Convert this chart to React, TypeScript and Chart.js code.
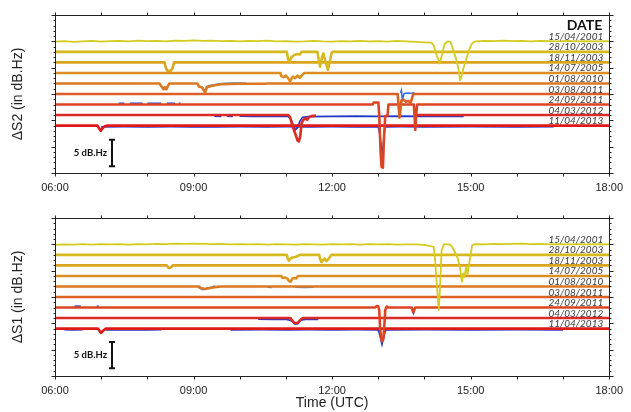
import { useEffect, useRef } from "react";
import { Chart, registerables } from "chart.js";

Chart.register(...registerables);

type Pt = [number, number | null];

// Event dates, one trace per date, stacked 2 dB.Hz apart
const DATES = [
  "15/04/2001",
  "28/10/2003",
  "18/11/2003",
  "14/07/2005",
  "01/08/2010",
  "03/08/2011",
  "24/09/2011",
  "04/03/2012",
  "11/04/2013",
];
const BASELINES = [25, 23, 21, 19, 17, 15, 13, 11, 9];
const COLORS = [
  "#d3cc1e",
  "#d8b81f",
  "#daa41e",
  "#dc8e22",
  "#dc7822",
  "#dc6026",
  "#dc4424",
  "#dc2a26",
  "#e01818",
];
const TIME_TICKS = [6, 9, 12, 15, 18];

// ---------- ΔS2 ----------
const S2_150401: Pt[] = [
  [6.0, 24.95], [6.2, 25.05], [6.4, 24.9], [6.6, 25.0], [6.8, 25.1], [7.0, 24.95], [7.2, 25.05],
  [7.4, 25.1], [7.6, 25.0], [7.8, 25.15], [8.0, 25.05], [8.2, 25.1], [8.4, 25.0], [8.6, 25.15],
  [8.8, 25.1], [9.0, 25.2], [9.2, 25.1], [9.4, 25.15], [9.6, 25.05], [9.8, 25.1], [10.0, 25.0],
  [10.2, 25.1], [10.4, 25.05], [10.6, 25.15], [10.8, 25.0], [11.0, 25.05], [11.2, 24.95], [11.4, 25.0],
  [11.6, 25.1], [11.8, 25.0], [12.0, 24.95], [12.2, 25.05], [12.4, 25.0], [12.6, 25.1], [12.8, 25.0],
  [13.0, 25.05], [13.2, 24.95], [13.4, 25.1], [13.6, 25.0], [13.8, 24.9], [14.0, 24.8], [14.15, 24.75],
  [14.2, 24.2], [14.27, 22.2], [14.33, 20.8], [14.38, 22.5], [14.43, 24.4], [14.5, 25.0], [14.56, 24.9],
  [14.6, 24.0], [14.66, 22.3], [14.7, 21.2], [14.74, 19.5], [14.77, 17.6], [14.8, 18.3], [14.84, 19.8],
  [14.9, 21.5], [14.96, 23.3], [15.03, 24.6], [15.1, 25.0], [15.3, 25.1], [15.5, 25.05], [15.7, 25.15],
  [15.9, 25.05], [16.1, 25.1], [16.3, 25.0], [16.5, 25.1], [16.7, 25.05], [16.9, 25.0], [17.1, 25.1],
  [17.3, 25.0], [17.5, 25.05], [17.7, 25.0], [18.0, 25.05],
];
const S2_281003: Pt[] = [
  [6, 23], [11.02, 23], [11.05, 21.5], [11.08, 21.2], [11.12, 22.0], [11.18, 22.4], [11.24, 22.6],
  [11.3, 22.5], [11.34, 23], [11.68, 23], [11.71, 21.5], [11.74, 20.2], [11.78, 22.0], [11.81, 22.7],
  [11.86, 21.0], [11.91, 19.6], [11.95, 21.2], [11.99, 22.8], [12.01, 23], [18, 23],
];
const S2_181103: Pt[] = [
  [6, 21], [8.37, 21], [8.4, 20.0], [8.43, 19.4], [8.5, 19.4], [8.54, 19.8], [8.58, 21], [18, 21],
];
const S2_140705: Pt[] = [
  [6, 19], [10.88, 19], [10.9, 18.4], [10.95, 18.2], [11.0, 18.5], [11.04, 18.1], [11.09, 17.4],
  [11.12, 17.9], [11.15, 18.3], [11.2, 18.0], [11.25, 18.5], [11.3, 18.1], [11.35, 18.6], [11.4, 19], [18, 19],
];
const S2_010810: Pt[] = [
  [6, 17], [8.26, 17], [8.3, 16.5], [8.35, 15.9], [8.38, 16.3], [8.41, 15.9], [8.45, 16.6], [8.48, 17],
  [9.08, 17], [9.12, 16.4], [9.18, 16.3], [9.22, 15.7], [9.25, 15.3], [9.29, 16.3], [9.4, 16.55],
  [9.5, 16.7], [9.6, 16.85], [9.8, 16.9], [10.0, 16.95], [10.5, 16.95], [10.6, 17], [18, 17],
];
const S2_030811: Pt[] = [
  [6, 15], [13.42, 15], [13.44, 12.5], [13.46, 10.5], [13.48, 12.0], [13.5, 13.8], [13.55, 13.9],
  [13.6, 13.5], [13.65, 13.7], [13.7, 13.3], [13.74, 14.5], [13.76, 15], [18, 15],
];
const S2_240911: Pt[] = [
  [6, 13], [12.88, 13], [12.9, 13.4], [13.0, 13.4], [13.02, 11.0], [13.05, 4.0], [13.07, 1.2],
  [13.1, 1.0], [13.12, 6.0], [13.15, 10.8], [13.2, 10.9], [13.22, 13.0], [13.77, 13.0], [13.79, 10.0],
  [13.8, 8.2], [13.82, 11.0], [13.84, 13], [18, 13],
];
const S2_040312: Pt[] = [
  [6, 11], [11.05, 11], [11.09, 10.6], [11.14, 9.0], [11.2, 7.5], [11.25, 6.2], [11.28, 6.0],
  [11.31, 7.0], [11.34, 9.5], [11.37, 10.0], [11.42, 10.4], [11.46, 10.1], [11.5, 10.6], [11.55, 10.8],
  [11.65, 10.9], [11.7, null], [13.82, 11], [18, 11],
];
const S2_110413: Pt[] = [
  [6, 9], [6.92, 9], [6.96, 8.4], [6.99, 8.0], [7.03, 8.5], [7.08, 8.9], [7.15, 9], [18, 9],
];
const S2_MAIN = [S2_150401, S2_281003, S2_181103, S2_140705, S2_010810, S2_030811, S2_240911, S2_040312, S2_110413];

// second receiver (blue), drawn under the main traces
const S2_BLUE_010810: Pt[] = [
  [9.2, 16.2], [9.25, 15.5], [9.28, 16.4], [9.35, 16.6], [9.45, 16.75], [9.55, 16.95], [9.7, 17.05],
  [9.85, 17.1], [10.0, 17.1], [10.15, 17.05],
];
const S2_BLUE_030811: Pt[] = [
  [13.48, 15.2], [13.5, 15.7], [13.52, 14.0], [13.56, 15.1], [13.65, 15.2], [13.72, 15.1], [13.78, 15.3],
];
const S2_BLUE_240911: Pt[] = [
  [7.38, 13.22], [7.5, 13.25], [7.55, null], [7.62, 13.22], [7.9, 13.25], [7.95, null], [8.0, 13.25],
  [8.3, 13.22], [8.35, null], [8.42, 13.22], [8.6, 13.25], [8.65, null], [8.68, 13.22], [8.72, 13.22],
];
const S2_BLUE_040312: Pt[] = [
  [9.45, 10.78], [9.6, 10.75], [9.65, null], [9.72, 10.78], [9.85, 10.75], [9.9, null], [10.0, 10.8],
  [10.3, 10.75], [10.65, 10.8], [11.05, 10.75], [11.12, 10.0], [11.2, 8.2], [11.25, 8.6], [11.3, 9.8],
  [11.36, 10.6], [11.5, 10.7], [12.0, 10.75], [12.5, 10.8], [13.0, 10.75], [13.5, 10.8], [14.0, 10.75],
  [14.5, 10.8], [14.85, 10.75],
];
const S2_BLUE_110413: Pt[] = [
  [7.0, 8.75], [7.5, 8.78], [8.0, 8.75], [8.5, 8.78], [9.0, 8.76], [9.5, 8.75], [10.0, 8.78],
  [10.6, 8.75], [11.0, 8.78], [11.5, 8.75], [12.0, 8.78], [12.5, 8.75], [13.0, 8.78], [13.04, 7.0],
  [13.07, 4.5], [13.09, 3.9], [13.11, 5.5], [13.14, 8.75], [13.5, 8.78], [14.0, 8.75], [15.0, 8.78],
  [16.0, 8.75], [16.8, 8.78],
];
const S2_BLUE = [
  { pts: S2_BLUE_010810, color: "#3a86e2" },
  { pts: S2_BLUE_030811, color: "#2f6fe0" },
  { pts: S2_BLUE_240911, color: "#2a46d0" },
  { pts: S2_BLUE_040312, color: "#2236c8" },
  { pts: S2_BLUE_110413, color: "#2236c8" },
];

// ---------- ΔS1 ----------
const S1_150401: Pt[] = [
  [6.0, 24.9], [6.2, 25.0], [6.4, 24.95], [6.6, 25.05], [6.8, 24.95], [7.0, 25.05], [7.2, 25.0],
  [7.4, 25.05], [7.6, 24.95], [7.8, 25.05], [8.0, 25.0], [8.2, 25.1], [8.4, 25.05], [8.6, 25.15],
  [8.8, 25.1], [9.0, 25.15], [9.2, 25.1], [9.4, 25.05], [9.6, 25.1], [9.8, 25.0], [10.0, 25.05],
  [10.2, 25.0], [10.4, 25.05], [10.6, 24.95], [10.8, 25.05], [11.0, 25.0], [11.2, 24.95], [11.4, 25.05],
  [11.6, 25.0], [11.8, 24.95], [12.0, 25.05], [12.2, 25.0], [12.4, 25.05], [12.6, 24.95], [12.8, 25.05],
  [13.0, 25.0], [13.2, 25.05], [13.4, 24.95], [13.6, 25.0], [13.8, 25.0], [14.0, 24.9], [14.1, 24.7],
  [14.2, 24.5], [14.23, 22.0], [14.27, 17.0], [14.31, 12.5], [14.34, 17.5], [14.37, 23.8], [14.42, 25.0],
  [14.55, 25.0], [14.6, 24.5], [14.66, 23.5], [14.72, 22.3], [14.77, 20.5], [14.81, 17.9], [14.84, 19.5],
  [14.87, 18.8], [14.9, 20.8], [14.93, 19.3], [14.97, 21.5], [15.0, 23.0], [15.03, 24.8], [15.1, 25.05],
  [15.3, 25.0], [15.5, 25.1], [15.7, 25.05], [15.9, 25.1], [16.1, 25.15], [16.3, 25.05], [16.5, 25.1],
  [16.7, 25.0], [16.9, 25.05], [17.1, 25.0], [17.3, 25.05], [17.5, 25.0], [17.7, 25.05], [18.0, 25.0],
];
const S1_281003: Pt[] = [
  [6, 23], [11.02, 23], [11.04, 22.2], [11.07, 21.9], [11.1, 22.3], [11.14, 22.5], [11.2, 22.6],
  [11.26, 22.8], [11.3, 23], [11.72, 23], [11.74, 22.2], [11.77, 21.6], [11.8, 22.0], [11.84, 22.3],
  [11.87, 21.8], [11.9, 22.0], [11.96, 22.7], [11.98, 23], [18, 23],
];
const S1_181103: Pt[] = [
  [6, 21], [8.42, 21], [8.45, 20.6], [8.48, 20.5], [8.52, 20.7], [8.55, 21], [18, 21],
];
const S1_140705: Pt[] = [
  [6, 19], [10.9, 19], [10.93, 18.6], [10.98, 18.7], [11.03, 18.5], [11.07, 18.0], [11.1, 17.9],
  [11.14, 18.5], [11.18, 18.6], [11.22, 18.5], [11.26, 19], [18, 19],
];
const S1_010810: Pt[] = [
  [6, 17], [9.12, 17], [9.15, 16.7], [9.2, 16.6], [9.25, 16.5], [9.3, 16.6], [9.36, 16.7],
  [9.42, 16.8], [9.5, 16.9], [9.6, 17], [18, 17],
];
const S1_030811: Pt[] = [[6, 15], [18, 15]];
const S1_240911: Pt[] = [
  [6, 13], [12.93, 13], [12.97, 13.3], [13.0, 13.2], [13.02, 12.5], [13.04, 9.0], [13.06, 7.2],
  [13.08, 6.6], [13.11, 7.0], [13.13, 9.5], [13.15, 12.5], [13.18, 13.2], [13.22, 13], [13.72, 13],
  [13.74, 12.5], [13.76, 12.1], [13.78, 12.6], [13.8, 13], [18, 13],
];
const S1_040312: Pt[] = [
  [6, 11], [11.1, 11], [11.13, 10.6], [11.18, 10.1], [11.24, 10.05], [11.28, 10.3], [11.33, 10.8],
  [11.37, 11], [18, 11],
];
const S1_110413: Pt[] = [
  [6, 9], [6.93, 9], [6.97, 8.5], [7.0, 8.2], [7.04, 8.6], [7.1, 9], [18, 9],
];
const S1_MAIN = [S1_150401, S1_281003, S1_181103, S1_140705, S1_010810, S1_030811, S1_240911, S1_040312, S1_110413];

const S1_BLUE_010810: Pt[] = [
  [9.1, 16.9], [9.15, 16.6], [9.2, 16.4], [9.25, 16.5], [9.3, 16.7], [9.38, 16.85], [9.45, 17.05],
  [9.5, 16.9], [9.55, 17.1], [9.6, null], [10.6, 16.85], [10.7, 16.8], [10.8, null], [11.2, 16.85],
  [11.4, 16.8], [11.6, 16.85],
];
const S1_BLUE_240911: Pt[] = [
  [6.42, 13.25], [6.5, 13.3], [6.56, 13.25], [6.6, null], [6.9, 13.22], [6.95, 13.22], [7.0, null],
  [13.74, 12.4], [13.76, 11.9], [13.78, 12.4],
];
const S1_BLUE_040312: Pt[] = [
  [10.4, 10.8], [10.7, 10.75], [11.0, 10.8], [11.12, 10.5], [11.2, 9.85], [11.26, 9.9], [11.32, 10.6],
  [11.45, 10.8], [11.7, 10.75],
];
const S1_BLUE_110413: Pt[] = [
  [6.2, 8.8], [6.4, 8.75], [6.6, 8.8], [6.7, null], [7.1, 8.75], [7.5, 8.8], [8.0, 8.75], [8.3, 8.8],
  [8.4, null], [9.8, 8.75], [10.5, 8.78], [11.0, 8.75], [11.5, 8.78], [12.0, 8.75], [12.5, 8.78],
  [13.0, 8.75], [13.04, 7.5], [13.08, 6.0], [13.12, 7.5], [13.16, 8.75], [14.0, 8.78], [15.0, 8.75],
  [16.0, 8.78], [17.0, 8.75],
];
const S1_BLUE = [
  { pts: S1_BLUE_010810, color: "#3a86e2" },
  { pts: S1_BLUE_240911, color: "#2a46d0" },
  { pts: S1_BLUE_040312, color: "#2236c8" },
  { pts: S1_BLUE_110413, color: "#2236c8" },
];

const AXIS_FONT = "'Liberation Sans', Arial, sans-serif";
const LABEL_FONT = "Lato, 'Open Sans', sans-serif";

type PanelProps = {
  top: number;
  height: number;
  padTop: number;
  xHeight: number;
  yTitle: string;
  xTitle?: string;
  header?: string;
  main: Pt[][];
  blue: { pts: Pt[]; color: string }[];
  bar: [number, number];
};

function toXY(pts: Pt[]) {
  return pts.map(([t, v]) => ({ x: t, y: v }));
}

function Panel(props: PanelProps) {
  const ref = useRef<HTMLCanvasElement | null>(null);

  useEffect(() => {
    const canvas = ref.current;
    if (!canvas) return;

    const datasets: any[] = [];
    props.main.forEach((pts, i) => {
      datasets.push({
        data: toXY(pts),
        borderColor: COLORS[i],
        borderWidth: i === 0 ? 1.8 : 2.6,
        pointRadius: 0,
        tension: 0,
        spanGaps: false,
        borderJoinStyle: "round",
        order: 1,
      });
    });
    props.blue.forEach((b) => {
      datasets.push({
        data: toXY(b.pts),
        borderColor: b.color,
        borderWidth: 1.6,
        pointRadius: 0,
        tension: 0,
        spanGaps: false,
        order: 2,
      });
    });

    const decor = {
      id: "panelDecor",
      afterDatasetsDraw(chart: any) {
        const { ctx, chartArea: a, scales } = chart;
        const x = scales.x;
        const y = scales.y;
        ctx.save();

        // date labels at the right end of each trace
        ctx.fillStyle = "#3a3a3a";
        ctx.font = `italic 10px ${LABEL_FONT}`;
        ctx.textAlign = "right";
        ctx.textBaseline = "alphabetic";
        DATES.forEach((d, i) => {
          ctx.fillText(d, a.right - 6, y.getPixelForValue(BASELINES[i]) - 1.5);
        });
        if (props.header) {
          ctx.fillStyle = "#111";
          ctx.font = `bold 14px ${LABEL_FONT}`;
          ctx.fillText(props.header, a.right - 7, y.getPixelForValue(27.1));
        }

        // 5 dB.Hz scale bar
        const bx = Math.round(x.getPixelForValue(7.24));
        const b0 = y.getPixelForValue(props.bar[0]);
        const b1 = y.getPixelForValue(props.bar[1]);
        ctx.strokeStyle = "#111";
        ctx.lineWidth = 2;
        ctx.beginPath();
        ctx.moveTo(bx, b0);
        ctx.lineTo(bx, b1);
        ctx.moveTo(bx - 3, b0);
        ctx.lineTo(bx + 3, b0);
        ctx.moveTo(bx - 3, b1);
        ctx.lineTo(bx + 3, b1);
        ctx.stroke();
        ctx.fillStyle = "#111";
        ctx.font = `bold 9.5px ${LABEL_FONT}`;
        ctx.textAlign = "right";
        ctx.textBaseline = "middle";
        ctx.fillText("5 dB.Hz", bx - 5, (b0 + b1) / 2);

        // frame
        ctx.lineWidth = 1;
        ctx.strokeStyle = "#222";
        const L = Math.round(a.left) + 0.5;
        const R = Math.round(a.right) + 0.5;
        const T = Math.round(a.top) + 0.5;
        const B = Math.round(a.bottom) + 0.5;
        ctx.strokeRect(L, T, R - L, B - T);

        // outward tick marks: 1 dB.Hz minor, 5 dB.Hz major, hourly on time axis
        ctx.beginPath();
        for (let v = y.min; v <= y.max; v += 1) {
          const py = Math.round(y.getPixelForValue(v)) + 0.5;
          const len = v % 5 === 0 ? 4 : 2;
          ctx.moveTo(L - len, py);
          ctx.lineTo(L, py);
          ctx.moveTo(R, py);
          ctx.lineTo(R + len, py);
        }
        for (let h = 6; h <= 18; h += 1) {
          const px = Math.round(x.getPixelForValue(h)) + 0.5;
          ctx.moveTo(px, T - 3);
          ctx.lineTo(px, T);
          ctx.moveTo(px, B);
          ctx.lineTo(px, B + 3);
        }
        ctx.stroke();
        ctx.restore();
      },
    };

    const chart = new Chart(canvas, {
      type: "line",
      data: { datasets },
      options: {
        animation: false,
        responsive: false,
        events: [],
        layout: { padding: { top: props.padTop, right: 14, left: 0, bottom: 0 } },
        plugins: { legend: { display: false }, tooltip: { enabled: false } },
        scales: {
          x: {
            type: "linear",
            min: 6,
            max: 18,
            afterBuildTicks: (s: any) => {
              s.ticks = TIME_TICKS.map((v) => ({ value: v }));
            },
            grid: { display: false, drawTicks: false },
            border: { display: false },
            ticks: {
              padding: 8,
              color: "#222",
              font: { family: AXIS_FONT, size: 11 },
              maxRotation: 0,
              autoSkip: false,
              callback: (v: any) => `${String(v).padStart(2, "0")}:00`,
            },
            title: {
              display: !!props.xTitle,
              text: props.xTitle || "",
              color: "#222",
              font: { family: AXIS_FONT, size: 14 },
              padding: { top: 0, bottom: 0 },
            },
            afterFit: (s: any) => {
              s.height = props.xHeight;
            },
          },
          y: {
            type: "linear",
            min: 0,
            max: 30,
            grid: { display: false, drawTicks: false },
            border: { display: false },
            ticks: { display: false },
            title: {
              display: true,
              text: props.yTitle,
              color: "#222",
              font: { family: AXIS_FONT, size: 14 },
              padding: { top: 10, bottom: 0 },
            },
            afterFit: (s: any) => {
              s.width = 55;
            },
          },
        },
      } as any,
      plugins: [decor],
    });
    return () => chart.destroy();
  }, []);

  return (
    <canvas
      ref={ref}
      width={631}
      height={props.height}
      style={{ position: "absolute", left: 0, top: props.top, width: 631, height: props.height }}
    />
  );
}

export default function App() {
  return (
    <div style={{ position: "absolute", left: 0, top: 0, width: 631, height: 412, background: "#fff" }}>
      <Panel
        top={0}
        height={200}
        padTop={15}
        xHeight={27}
        yTitle="ΔS2 (in dB.Hz)"
        header="DATE"
        main={S2_MAIN}
        blue={S2_BLUE}
        bar={[1.3, 6.3]}
      />
      <Panel
        top={200}
        height={212}
        padTop={18}
        xHeight={36}
        yTitle="ΔS1 (in dB.Hz)"
        xTitle="Time (UTC)"
        main={S1_MAIN}
        blue={S1_BLUE}
        bar={[1.45, 6.45]}
      />
    </div>
  );
}
